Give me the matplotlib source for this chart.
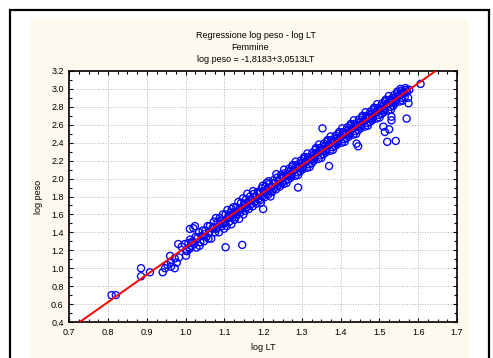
import matplotlib.pyplot as plt
import numpy as np
from matplotlib.patches import Rectangle
from matplotlib.ticker import MultipleLocator, AutoMinorLocator

plt.rcParams['font.family'] = ['Liberation Sans', 'DejaVu Sans']

# regression coefficients (from title)
intercetta = -1.8183
pendenza = 3.0513

# sparse points at low lengths
lt_basso = [0.809, 0.82, 0.885, 0.885, 0.908, 0.941, 0.947, 0.953, 0.962, 0.972,
            0.962, 0.977, 0.96, 0.972, 0.983, 0.981, 0.99, 0.998, 1.001, 1.001,
            1.011, 1.015, 1.02, 1.011, 1.024]
peso_basso = [0.70, 0.70, 1.00, 0.91, 0.955, 0.955, 1.00, 1.036, 1.017, 1.00,
              1.066, 1.062, 1.137, 1.11, 1.12, 1.27, 1.24, 1.27, 1.196, 1.14,
              1.22, 1.28, 1.446, 1.438, 1.47]

# main cloud, part 1 (1.00 - 1.25)
lt_a = [1.004, 1.007, 1.009, 1.012, 1.016, 1.018, 1.022, 1.026, 1.028,
        1.031, 1.034, 1.038, 1.036, 1.041, 1.044, 1.047, 1.049,
        1.051, 1.054, 1.057, 1.059, 1.061, 1.063, 1.066, 1.069,
        1.071, 1.073, 1.076, 1.078, 1.079, 1.081, 1.083, 1.086, 1.088, 1.089,
        1.091, 1.093, 1.096, 1.098, 1.099, 1.101, 1.103, 1.106, 1.108, 1.109,
        1.111, 1.113, 1.116, 1.118, 1.119, 1.114, 1.121, 1.123, 1.126, 1.128, 1.129,
        1.131, 1.133, 1.136, 1.138, 1.139, 1.141, 1.143, 1.146, 1.148, 1.149,
        1.151, 1.153, 1.156, 1.158, 1.159, 1.154, 1.161, 1.163, 1.166, 1.168, 1.169,
        1.171, 1.173, 1.176, 1.178, 1.179, 1.174, 1.181, 1.183, 1.186, 1.188, 1.189,
        1.191, 1.193, 1.196, 1.198, 1.199, 1.194, 1.201, 1.203, 1.206, 1.208, 1.209,
        1.211, 1.213, 1.216, 1.218, 1.219, 1.214, 1.221, 1.223, 1.226, 1.228, 1.229,
        1.231, 1.233, 1.236, 1.238, 1.239, 1.234, 1.241, 1.243, 1.246, 1.248, 1.249]
peso_a = [1.19, 1.28, 1.23, 1.32, 1.25, 1.30, 1.27, 1.35, 1.23,
          1.34, 1.40, 1.29, 1.25, 1.36, 1.42, 1.30, 1.38,
          1.42, 1.35, 1.47, 1.33, 1.40, 1.47, 1.33, 1.44,
          1.46, 1.52, 1.40, 1.56, 1.44, 1.45, 1.52, 1.40, 1.56, 1.49,
          1.53, 1.47, 1.60, 1.50, 1.44, 1.52, 1.60, 1.47, 1.65, 1.56,
          1.58, 1.52, 1.62, 1.49, 1.66, 1.57, 1.59, 1.68, 1.54, 1.63, 1.57,
          1.68, 1.60, 1.74, 1.55, 1.65, 1.62, 1.73, 1.67, 1.78, 1.60,
          1.72, 1.64, 1.77, 1.68, 1.83, 1.70, 1.74, 1.66, 1.80, 1.71, 1.77,
          1.76, 1.69, 1.83, 1.74, 1.80, 1.86, 1.80, 1.72, 1.85, 1.77, 1.83,
          1.84, 1.76, 1.89, 1.80, 1.92, 1.73, 1.86, 1.79, 1.91, 1.83, 1.95,
          1.88, 1.82, 1.94, 1.86, 1.80, 1.97, 1.91, 1.85, 1.98, 1.89, 1.95,
          1.95, 1.88, 2.01, 1.92, 1.98, 2.05, 1.97, 1.91, 2.04, 1.95, 2.02]

# main cloud, part 2 (1.25 - 1.58)
lt_b = [1.251, 1.253, 1.256, 1.258, 1.259, 1.254, 1.262, 1.265, 1.267, 1.260, 1.264, 1.269,
        1.273, 1.271, 1.278, 1.276, 1.270, 1.275, 1.281, 1.283, 1.286, 1.288, 1.289, 1.284,
        1.292, 1.295, 1.297, 1.290, 1.294, 1.299, 1.303, 1.301, 1.308, 1.306, 1.300, 1.305,
        1.311, 1.313, 1.316, 1.318, 1.319, 1.314, 1.322, 1.325, 1.327, 1.320, 1.324, 1.329,
        1.333, 1.331, 1.338, 1.336, 1.330, 1.335, 1.341, 1.343, 1.346, 1.348, 1.349, 1.344,
        1.352, 1.355, 1.357, 1.350, 1.354, 1.359, 1.363, 1.361, 1.368, 1.366, 1.360, 1.365,
        1.371, 1.373, 1.376, 1.378, 1.379, 1.374, 1.382, 1.385, 1.387, 1.380, 1.384, 1.389,
        1.393, 1.391, 1.398, 1.396, 1.390, 1.395, 1.401, 1.403, 1.406, 1.408, 1.409, 1.404,
        1.412, 1.415, 1.417, 1.410, 1.414, 1.419, 1.423, 1.421, 1.428, 1.426, 1.420, 1.425,
        1.431, 1.433, 1.436, 1.438, 1.439, 1.434, 1.442, 1.445, 1.447, 1.440, 1.444, 1.449,
        1.453, 1.451, 1.458, 1.456, 1.450, 1.455, 1.461, 1.463, 1.466, 1.468, 1.469, 1.464,
        1.472, 1.475, 1.477, 1.470, 1.474, 1.479, 1.483, 1.481, 1.488, 1.486, 1.480, 1.485,
        1.491, 1.493, 1.496, 1.498, 1.499, 1.494, 1.502, 1.505, 1.507, 1.500, 1.504, 1.509,
        1.513, 1.511, 1.518, 1.516, 1.510, 1.515, 1.521, 1.523, 1.526, 1.528, 1.529, 1.524,
        1.532, 1.535, 1.537, 1.530, 1.534, 1.539, 1.543, 1.541, 1.548, 1.546, 1.540, 1.545,
        1.551, 1.553, 1.556, 1.558, 1.559, 1.554, 1.562, 1.565, 1.567, 1.560, 1.564, 1.569,
        1.571, 1.574, 1.577, 1.575]
peso_b = [2.01, 1.94, 2.06, 1.98, 2.04, 2.10, 2.05, 1.99, 2.11, 1.95, 2.03, 2.08,
          2.05, 2.01, 2.09, 2.15, 2.03, 2.13, 2.10, 2.03, 2.15, 2.07, 2.13, 2.19,
          2.14, 2.08, 2.20, 2.04, 2.12, 2.17, 2.14, 2.10, 2.18, 2.24, 2.12, 2.22,
          2.19, 2.12, 2.24, 2.16, 2.22, 2.28, 2.23, 2.17, 2.29, 2.13, 2.21, 2.26,
          2.24, 2.20, 2.28, 2.34, 2.22, 2.32, 2.29, 2.22, 2.34, 2.26, 2.32, 2.38,
          2.33, 2.27, 2.39, 2.23, 2.31, 2.36, 2.33, 2.29, 2.37, 2.43, 2.31, 2.41,
          2.38, 2.31, 2.43, 2.35, 2.41, 2.47, 2.42, 2.36, 2.48, 2.32, 2.40, 2.45,
          2.42, 2.38, 2.46, 2.52, 2.40, 2.50, 2.47, 2.40, 2.52, 2.44, 2.50, 2.56,
          2.51, 2.45, 2.57, 2.41, 2.49, 2.54, 2.51, 2.47, 2.55, 2.61, 2.49, 2.59,
          2.56, 2.49, 2.61, 2.53, 2.59, 2.65, 2.60, 2.54, 2.66, 2.50, 2.58, 2.63,
          2.60, 2.56, 2.64, 2.70, 2.58, 2.68, 2.65, 2.58, 2.70, 2.62, 2.68, 2.74,
          2.69, 2.63, 2.75, 2.59, 2.67, 2.72, 2.69, 2.65, 2.73, 2.79, 2.67, 2.77,
          2.74, 2.67, 2.79, 2.71, 2.77, 2.83, 2.78, 2.72, 2.84, 2.68, 2.76, 2.81,
          2.78, 2.74, 2.82, 2.88, 2.76, 2.86, 2.83, 2.76, 2.88, 2.80, 2.86, 2.92,
          2.87, 2.81, 2.93, 2.77, 2.85, 2.90, 2.88, 2.84, 2.92, 2.97, 2.86, 2.95,
          2.93, 2.86, 2.98, 2.90, 2.95, 3.00, 2.97, 2.91, 3.01, 2.87, 2.95, 2.99,
          2.97, 2.90, 2.99, 2.84]

# points away from the band
lt_fuori = [1.103, 1.146, 1.20, 1.29, 1.37, 1.445, 1.441, 1.52, 1.542, 1.57,
            1.514, 1.525, 1.51, 1.531, 1.531, 1.353, 1.606]
peso_fuori = [1.234, 1.26, 1.66, 1.90, 2.14, 2.36, 2.39, 2.41, 2.42, 2.67,
              2.52, 2.55, 2.58, 2.65, 2.69, 2.56, 3.056]

lt = np.array(lt_basso + lt_a + lt_b + lt_fuori)
peso = np.array(peso_basso + peso_a + peso_b + peso_fuori)

fig = plt.figure(figsize=(4.93, 3.58), dpi=100)
fig.patch.set_facecolor('white')

# outer frame and cream panel
fig.add_artist(Rectangle((10 / 493, -0.05), 479 / 493, 1.05 - 10 / 358,
                         transform=fig.transFigure, facecolor='white',
                         edgecolor='black', linewidth=1.6, zorder=0))
fig.add_artist(Rectangle((30 / 493, -0.05), 439 / 493, 1.05 - 19 / 358,
                         transform=fig.transFigure, facecolor='#fdf9ee',
                         edgecolor='none', zorder=0))

ax = fig.add_axes([69.3 / 493, 36 / 358, 387.7 / 493, 251 / 358])
ax.set_facecolor('white')

ax.scatter(lt, peso, s=26, facecolors='none', edgecolors='#0000ff',
           linewidths=0.95, zorder=2)

x_retta = np.array([0.727, 1.645])
ax.plot(x_retta, intercetta + pendenza * x_retta, color='red', linewidth=1.4, zorder=3)

ax.set_xlim(0.7, 1.7)
ax.set_ylim(0.4, 3.2)
ax.xaxis.set_major_locator(MultipleLocator(0.1))
ax.yaxis.set_major_locator(MultipleLocator(0.2))
ax.xaxis.set_minor_locator(AutoMinorLocator(4))
ax.yaxis.set_minor_locator(AutoMinorLocator(2))
ax.tick_params(which='both', direction='in', top=True, right=True,
               labelsize=6.5, width=0.8)
ax.tick_params(which='major', length=3, pad=4)
ax.tick_params(which='minor', length=2)
ax.xaxis.set_major_formatter(plt.FuncFormatter(lambda v, p: f'{v:.1f}'))
ax.yaxis.set_major_formatter(plt.FuncFormatter(lambda v, p: f'{v:.1f}'))
ax.grid(True, which='major', color='#b0b0b0', linestyle=':', linewidth=0.7)
for s in ax.spines.values():
    s.set_linewidth(1.2)

ax.set_xlabel('log LT', fontsize=6.5, labelpad=5)
ax.set_ylabel('log peso', fontsize=6.5, labelpad=6)

fig.text(256 / 493, 1 - 36 / 358, 'Regressione log peso - log LT',
         ha='center', va='center', fontsize=6.5)
fig.text(250 / 493, 1 - 47 / 358, 'Femmine', ha='center', va='center', fontsize=6.5)
fig.text(256 / 493, 1 - 60 / 358, 'log peso = -1,8183+3,0513LT',
         ha='center', va='center', fontsize=6.5)

fig.savefig('out.png', dpi=100)
